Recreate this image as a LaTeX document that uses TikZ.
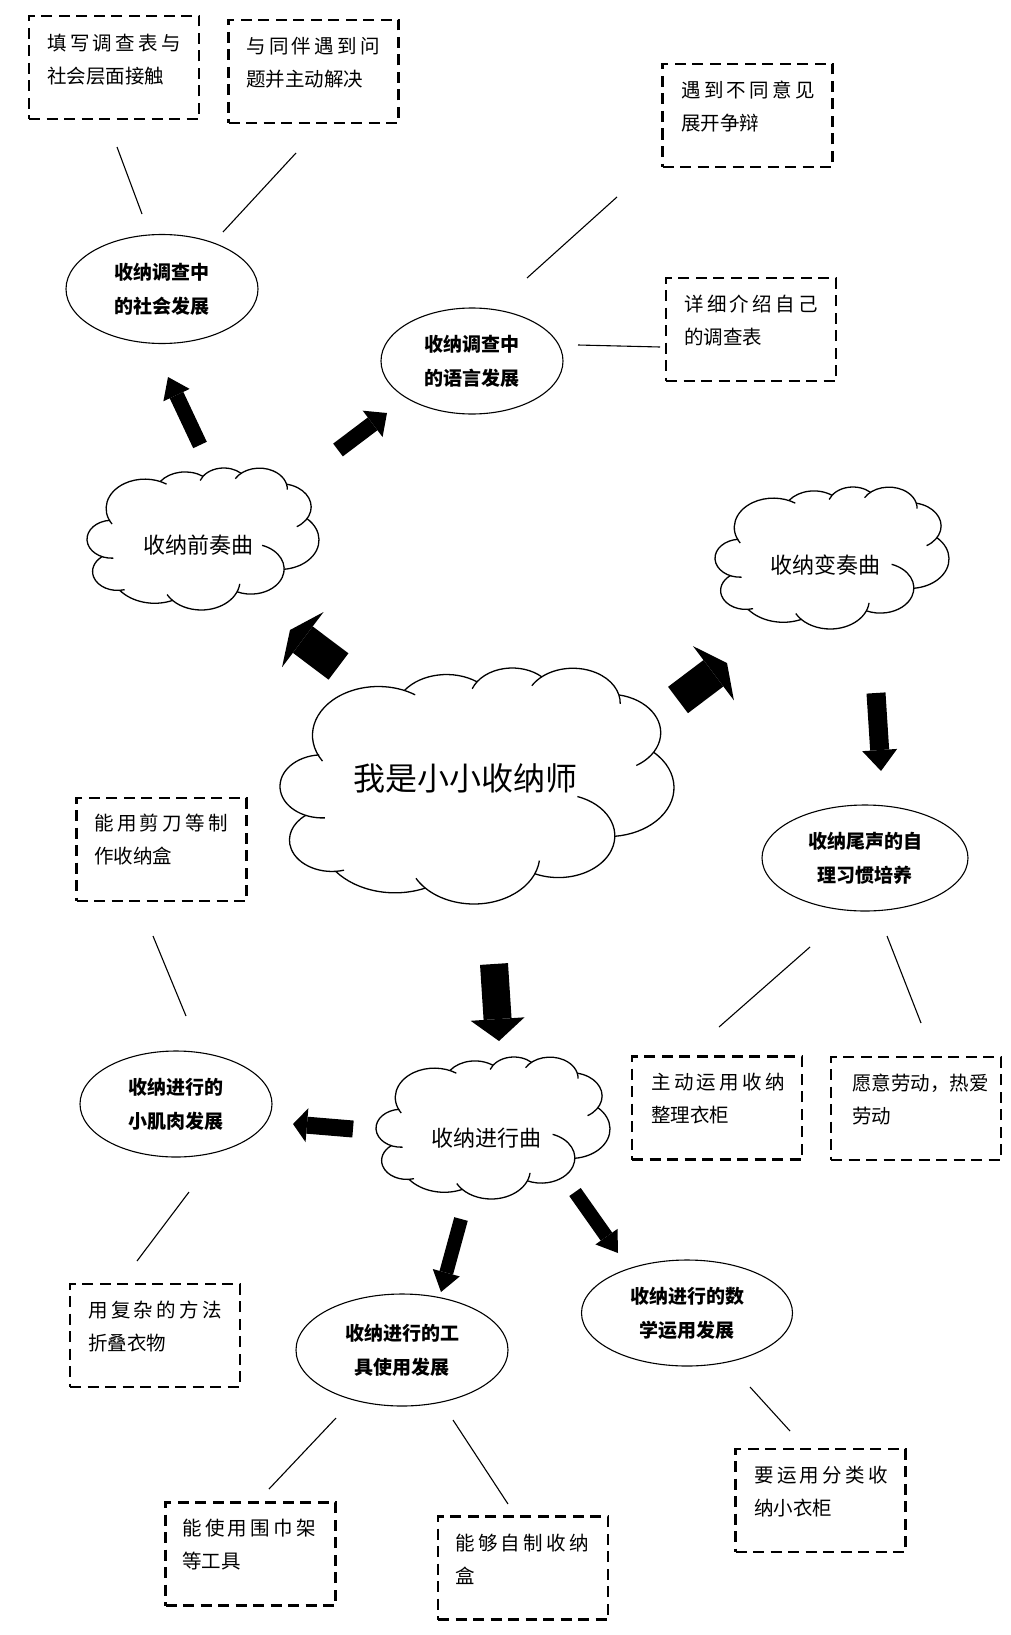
\documentclass[tikz,border=0pt]{standalone}
\usepackage{fontspec}
\setmainfont{Noto Sans CJK SC}
\usetikzlibrary{shapes.geometric, arrows.meta}

% first line of a hint is spread over the whole box
\newcommand{\spreadline}[1]{\makebox[134pt][s]{\spreadloop#1\relax\relax}}
\def\spreadloop#1#2{#1\ifx\relax#2\else\hfil\expandafter\spreadloop\expandafter#2\fi}

% outline of a word-style cloud: centre x, centre y, width, height
\newcommand{\wordcloud}[4]{%
  \begin{scope}[shift={(#1,#2)}, xscale=#3/403.89, yscale=#4/444.65, shift={(-206.52,-222.55)}]
    \foreach \cx/\cy/\rx/\ry/\angA/\angB in {
        105.40/126.97/67.53/91.90/-212/-56,
        175.30/85.17/53.33/72.67/-144.10/-54.15,
        242.64/59.67/43.65/59.45/-160/-46.09,
        304.78/66.62/48.57/65.95/-150/1.1,
        341.52/122.26/53.33/72.73/-78.71/58,
        340.71/225.58/67.75/92.20/-46.27/84,
        289.94/316.41/57.85/78.67/-70.3/114.66,
        203.40/352.72/67.52/92.15/6.45/151.7,
        122.43/318.36/77.20/105.43/66.24/141.95,
        57.88/324.37/43.60/59.18/73.6/231.8,
        48.02/223.21/43.45/59.45/86.74/265.69}
      \draw[cloudline] (\cx,\cy) ++(\angA:\rx pt and \ry pt)
        arc[start angle=\angA, end angle=\angB, x radius=\rx pt, y radius=\ry pt];
  \end{scope}}

\tikzset{x=1pt, y=1pt, % one unit is one pixel of the sketch
hintbox/.style={ % dashed boxes round the hints
  draw, line width=2.8pt, dash pattern=on 11pt off 6.5pt,
  minimum width=170pt, minimum height=103pt, inner sep=0pt},
hint/.style={ % text of a hint
  anchor=west, inner sep=0pt, align=left, font=\fontsize{19.5}{33}\selectfont},
aim/.style={ % the ellipses
  draw, ellipse, line width=1.1pt, inner sep=0pt, align=center,
  font=\fontsize{19}{34}\selectfont\bfseries},
stage/.style={ % text in the clouds
  inner sep=0pt, font=\fontsize{22}{26}\selectfont},
cloudline/.style={line width=1.3pt},
link/.style={line width=1.1pt},
fatarrow/.style n args={3}{ % shaft width, head width, head length
  line width=#1pt, -{Triangle[width=#2pt, length=#3pt, line width=0pt]}}}

\begin{document}
\begin{tikzpicture}[yscale=-1]
    \useasboundingbox (0,0) rectangle (1011,1635);

    % clouds
    \node[stage, font=\fontsize{32}{36}\selectfont] (main) at (465,778) {我是小小收纳师};
    \wordcloud{477}{786}{394}{236}
    \node[stage] (prelude) at (198,545) {收纳前奏曲};
    \wordcloud{203}{539}{232}{142}
    \node[stage] (variation) at (825,565) {收纳变奏曲};
    \wordcloud{832}{558}{234}{142}
    \node[stage] (progress) at (486,1138) {收纳进行曲};
    \wordcloud{493}{1128}{234}{142}

    % ellipses
    \node[aim, minimum width=192pt, minimum height=109pt] (social) at (162,289) {收纳调查中\\的社会发展};
    \node[aim, minimum width=182pt, minimum height=106pt] (language) at (472,361) {收纳调查中\\的语言发展};
    \node[aim, minimum width=206pt, minimum height=106pt] (habit) at (865,858) {收纳尾声的自\\理习惯培养};
    \node[aim, minimum width=192pt, minimum height=106pt] (muscle) at (176,1104) {收纳进行的\\小肌肉发展};
    \node[aim, minimum width=212pt, minimum height=112pt] (tools) at (402,1350) {收纳进行的工\\具使用发展};
    \node[aim, minimum width=211pt, minimum height=106pt] (maths) at (687,1313) {收纳进行的数\\学运用发展};

    % dashed boxes
    \node[hintbox] (survey) at (114,67.5) {};
    \node[hint] (survey text) at (47,59.5) {\spreadline{填写调查表与}\\社会层面接触};
    \node[hintbox] (peers) at (313.5,71.5) {};
    \node[hint] (peers text) at (246,63) {\spreadline{与同伴遇到问}\\题并主动解决};
    \node[hintbox] (debate) at (747.5,115.5) {};
    \node[hint] (debate text) at (681,106.5) {\spreadline{遇到不同意见}\\展开争辩};
    \node[hintbox] (present) at (751,329.5) {};
    \node[hint] (present text) at (684,321) {\spreadline{详细介绍自己}\\的调查表};
    \node[hintbox] (scissors) at (161.5,849.5) {};
    \node[hint] (scissors text) at (94,840) {\spreadline{能用剪刀等制}\\作收纳盒};
    \node[hintbox] (tidy) at (717,1108) {};
    \node[hint] (tidy text) at (651,1099) {\spreadline{主动运用收纳}\\整理衣柜};
    \node[hintbox] (labour) at (916,1108.5) {};
    \node[hint] (labour text) at (852,1099) {\spreadline{愿意劳动，热爱}\\劳动};
    \node[hintbox] (fold) at (155,1335.5) {};
    \node[hint] (fold text) at (88,1327) {\spreadline{用复杂的方法}\\折叠衣物};
    \node[hintbox] (rack) at (250.5,1554) {};
    \node[hint] (rack text) at (182,1544.5) {\spreadline{能使用围巾架}\\等工具};
    \node[hintbox] (selfmade) at (523,1568) {};
    \node[hint] (selfmade text) at (455,1559) {\spreadline{能够自制收纳}\\盒};
    \node[hintbox] (sorting) at (820.5,1500.5) {};
    \node[hint] (sorting text) at (754,1491.5) {\spreadline{要运用分类收}\\纳小衣柜};

    % ends of the thin links
    \coordinate (s1) at (117,147);  \coordinate (e1) at (142,214);
    \coordinate (s2) at (296,153);  \coordinate (e2) at (223,232);
    \coordinate (s3) at (617,197);  \coordinate (e3) at (527,278);
    \coordinate (s4) at (578,345);  \coordinate (e4) at (660,347);
    \coordinate (s5) at (153,936);  \coordinate (e5) at (186,1016);
    \coordinate (s6) at (189,1192); \coordinate (e6) at (137,1261);
    \coordinate (s7) at (810,947);  \coordinate (e7) at (719,1027);
    \coordinate (s8) at (887,936);  \coordinate (e8) at (921,1023);
    \coordinate (s9) at (336,1418); \coordinate (e9) at (269,1489);
    \coordinate (s10) at (453,1420); \coordinate (e10) at (508,1504);
    \coordinate (s11) at (750,1387); \coordinate (e11) at (790,1431);

    \draw[link] (s1) -- (e1);
    \draw[link] (s2) -- (e2);
    \draw[link] (s3) -- (e3);
    \draw[link] (s4) -- (e4);
    \draw[link] (s5) -- (e5);
    \draw[link] (s6) -- (e6);
    \draw[link] (s7) -- (e7);
    \draw[link] (s8) -- (e8);
    \draw[link] (s9) -- (e9);
    \draw[link] (s10) -- (e10);
    \draw[link] (s11) -- (e11);

    % tails and tips of the block arrows
    \coordinate (p1) at (200,445);   \coordinate (q1) at (168,377);
    \coordinate (p2) at (338,450);   \coordinate (q2) at (387,413);
    \coordinate (p3) at (338.5,666.5); \coordinate (q3) at (290,630);
    \coordinate (p4) at (678,700);   \coordinate (q4) at (727,663);
    \coordinate (p5) at (876,693);   \coordinate (q5) at (881,771);
    \coordinate (p6) at (494,964);   \coordinate (q6) at (499,1041);
    \coordinate (p7) at (353,1129);  \coordinate (q7) at (293,1124);
    \coordinate (p8) at (461,1219);  \coordinate (q8) at (441,1292);
    \coordinate (p9) at (575,1192);  \coordinate (q9) at (618,1253);

    \draw[fatarrow={15}{29}{20}] (p1) -- (q1);
    \draw[fatarrow={16}{33}{18}] (p2) -- (q2);
    \draw[fatarrow={33}{69}{16}] (p3) -- (q3);
    \draw[fatarrow={33}{68}{17}] (p4) -- (q4);
    \draw[fatarrow={19}{35}{21}] (p5) -- (q5);
    \draw[fatarrow={28}{54}{22}] (p6) -- (q6);
    \draw[fatarrow={17}{34}{14}] (p7) -- (q7);
    \draw[fatarrow={14}{28}{20}] (p8) -- (q8);
    \draw[fatarrow={14}{27}{20}] (p9) -- (q9);

\end{tikzpicture}
\end{document}
